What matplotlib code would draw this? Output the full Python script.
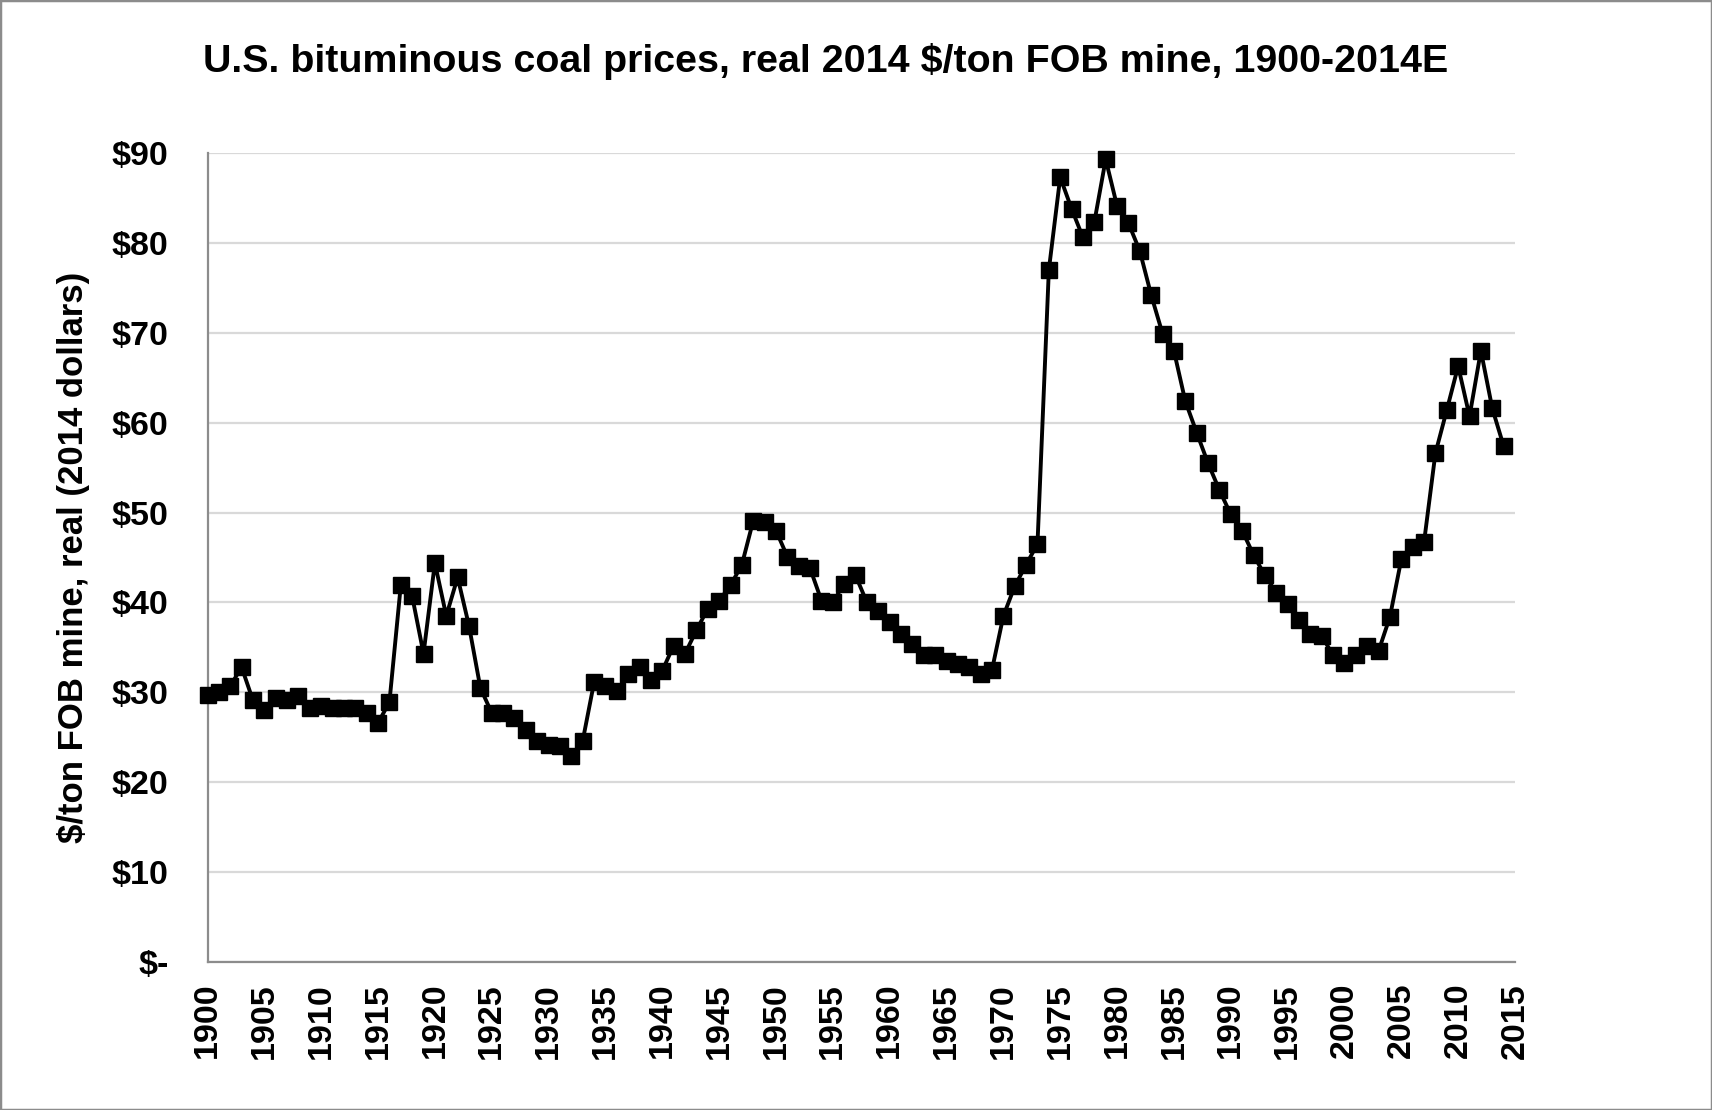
import matplotlib
matplotlib.use("Agg")
import matplotlib.pyplot as plt
from matplotlib.patches import Rectangle
import numpy as np

years = list(range(1900, 2015))
prices = [
    29.7, 30.0, 30.7, 32.8, 29.1, 28.0, 29.4, 29.1, 29.6, 28.3,
    28.5, 28.3, 28.3, 28.3, 27.7, 26.6, 28.9, 41.9, 40.7, 34.3,
    44.4, 38.5, 42.8, 37.4, 30.5, 27.7, 27.7, 27.2, 25.8, 24.6,
    24.1, 24.0, 22.9, 24.6, 31.1, 30.7, 30.2, 32.0, 32.8, 31.4,
    32.4, 35.2, 34.3, 36.9, 39.3, 40.2, 41.9, 44.2, 49.1, 48.9,
    48.0, 45.1, 44.0, 43.8, 40.2, 40.0, 42.1, 43.0, 40.0, 39.0,
    37.8, 36.5, 35.4, 34.1, 34.1, 33.5, 33.2, 32.8, 32.0, 32.5,
    38.5, 41.8, 44.2, 46.5, 77.0, 87.3, 83.8, 80.6, 82.3, 89.3,
    84.1, 82.2, 79.1, 74.2, 69.9, 68.0, 62.4, 58.9, 55.5, 52.5,
    49.8, 48.0, 45.3, 43.0, 41.1, 39.8, 38.1, 36.5, 36.3, 34.1,
    33.3, 34.1, 35.2, 34.6, 38.4, 44.8, 46.2, 46.7, 56.6, 61.4,
    66.3, 60.7, 68.0, 61.6, 57.4,
]
x_ticks = list(range(1900, 2016, 5))
y_ticks = [0, 10, 20, 30, 40, 50, 60, 70, 80, 90]
y_tick_labels = ["$-", "$10", "$20", "$30", "$40", "$50", "$60", "$70", "$80", "$90"]

title = "U.S. bituminous coal prices, real 2014 $/ton FOB mine, 1900-2014E"
ylabel = "$/ton FOB mine, real (2014 dollars)"

plt.rcParams['font.family'] = ['Liberation Sans', 'DejaVu Sans']
plt.rcParams['font.weight'] = 'bold'

fig = plt.figure(figsize=(17.12, 11.10), dpi=100)
ax = fig.add_axes([207.5/1712, 1-962/1110, (1515-207.5)/1712, (962-153)/1110])

ax.plot(years, prices, color='black', linewidth=2.8, marker='s', markersize=11,
        markerfacecolor='black', markeredgecolor='black', zorder=3, clip_on=False)

ax.set_xlim(1900, 2015)
ax.set_ylim(0, 90)
ax.set_xticks(x_ticks)
ax.set_xticklabels([str(t) for t in x_ticks], rotation=90, fontsize=24.5, fontweight='bold')
ax.set_yticks(y_ticks)
ax.set_yticklabels(y_tick_labels, fontsize=24.5, fontweight='bold')
ax.tick_params(axis='both', length=0)
ax.tick_params(axis='y', pad=28)
ax.tick_params(axis='x', pad=15)

ax.grid(axis='y', color='#d9d9d9', linewidth=1.6, zorder=0)
ax.set_axisbelow(True)
for s in ['top', 'right']:
    ax.spines[s].set_visible(False)
for s in ['left', 'bottom']:
    ax.spines[s].set_color('#8c8c8c')
    ax.spines[s].set_linewidth(1.6)

fig.text(826/1712, 1-62/1110, title, ha='center', va='center', fontsize=28.4, fontweight='bold')
fig.text(74/1712, 1-557/1110, ylabel, ha='center', va='center', rotation=90, fontsize=25, fontweight='bold')

fig.patches.append(Rectangle((0, 0), 1, 1, transform=fig.transFigure, fill=False,
                             edgecolor='#8c8c8c', linewidth=2.5))

fig.savefig("out.png", dpi=100)
